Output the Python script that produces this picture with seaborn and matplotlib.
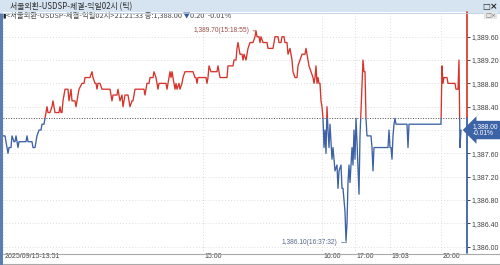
import numpy as np
import pandas as pd
import matplotlib
matplotlib.use("Agg")
import matplotlib.pyplot as plt
import seaborn as sns
from matplotlib.patches import Rectangle
from matplotlib.lines import Line2D
import matplotlib.transforms as mtransforms
from matplotlib.ticker import FuncFormatter

# ---------------- data ----------------
title = "서울외환-USDSP-체결-익일02시 (틱)"
header_main = "<서울외환-USDSP-체결-익일02시>21:21:33 종:1,388.00 "
header_change = "0.20  -0.01%"
prev_close = 1388.20
last_price = 1388.00
last_pct = "-0.01%"
max_time = "15:18:55"
min_time = "16:37:32"

time_tick_pos = [3, 203, 322, 355, 390, 441]
time_tick_labels = ["2025/09/15-13:51", "15:00", "16:00", "17:00", "19:03", "20:00"]
price_ticks = [1386.0, 1386.4, 1386.8, 1387.2, 1387.6, 1388.0, 1388.4, 1388.8, 1389.2, 1389.6]

tick_no = [3, 5, 6, 7, 8, 9, 11, 12, 14, 15, 16, 17, 18, 19, 26, 27, 28, 32, 33, 35,
           36, 37, 39, 41, 42, 44, 45, 47, 48, 50, 52, 53, 55, 57, 59, 60, 61, 62, 63, 65,
           68, 69, 71, 72, 75, 76, 77, 79, 82, 84, 85, 90, 92, 93, 95, 96, 97, 98, 100, 102,
           110, 112, 113, 117, 118, 119, 120, 122, 123, 125, 128, 130, 132, 133, 135, 144, 145, 147, 149, 150,
           153, 154, 156, 157, 158, 159, 166, 167, 168, 170, 171, 172, 173, 174, 175, 176, 177, 179, 180, 182,
           183, 185, 193, 195, 196, 197, 198, 206, 207, 208, 209, 211, 217, 218, 220, 227, 228, 230, 233, 234,
           236, 237, 238, 239, 240, 242, 243, 244, 246, 247, 248, 250, 253, 255, 256, 257, 259, 260, 261, 263,
           267, 268, 273, 275, 278, 279, 281, 282, 284, 285, 287, 288, 290, 292, 293, 295, 297, 298, 300, 302,
           305, 306, 307, 309, 311, 313, 314, 315, 316, 317, 318, 319, 320, 321, 322, 323, 324, 325, 326, 327,
           328, 329, 330, 332, 333, 335, 337, 338, 339, 341, 342, 343, 345, 346, 347, 348, 349, 350, 352, 353,
           354, 355, 356, 357, 359, 360, 362, 363, 364, 365, 366, 367, 371, 372, 373, 374, 388, 389, 390, 391,
           392, 393, 394, 395, 396, 407, 408, 409, 441, 442, 443, 444, 447, 448, 455, 456, 458, 459, 460, 461]

price = [1387.90, 1387.90, 1387.80, 1387.70, 1387.60, 1387.70, 1387.70, 1387.90, 1387.80, 1387.80,
         1387.90, 1387.80, 1387.70, 1387.80, 1387.80, 1387.90, 1387.80, 1387.80, 1387.70, 1387.70,
         1387.80, 1387.90, 1388.00, 1388.00, 1388.10, 1388.10, 1388.20, 1388.40, 1388.30, 1388.30,
         1388.40, 1388.50, 1388.30, 1388.30, 1388.30, 1388.40, 1388.30, 1388.30, 1388.50, 1388.70,
         1388.70, 1388.50, 1388.70, 1388.50, 1388.50, 1388.40, 1388.50, 1388.70, 1388.80, 1388.80,
         1388.90, 1388.90, 1389.00, 1388.90, 1388.80, 1388.80, 1388.70, 1388.80, 1388.80, 1388.70,
         1388.70, 1388.50, 1388.60, 1388.60, 1388.70, 1388.60, 1388.50, 1388.60, 1388.40, 1388.60,
         1388.60, 1388.40, 1388.50, 1388.50, 1388.70, 1388.70, 1388.60, 1388.80, 1388.80, 1388.90,
         1388.90, 1389.00, 1388.90, 1388.80, 1388.70, 1388.80, 1388.80, 1388.70, 1388.80, 1389.00,
         1388.90, 1389.00, 1388.90, 1388.80, 1388.70, 1388.80, 1388.70, 1388.80, 1388.70, 1388.80,
         1388.90, 1389.00, 1389.00, 1388.90, 1388.90, 1388.80, 1388.90, 1388.90, 1388.80, 1388.90,
         1389.10, 1389.00, 1389.00, 1389.10, 1388.90, 1388.90, 1389.10, 1389.10, 1389.10, 1389.20,
         1389.20, 1389.40, 1389.50, 1389.40, 1389.30, 1389.30, 1389.20, 1389.30, 1389.20, 1389.30,
         1389.40, 1389.50, 1389.50, 1389.60, 1389.70, 1389.60, 1389.60, 1389.50, 1389.60, 1389.50,
         1389.50, 1389.40, 1389.40, 1389.60, 1389.60, 1389.50, 1389.50, 1389.60, 1389.60, 1389.50,
         1389.50, 1389.30, 1389.40, 1389.20, 1389.00, 1388.90, 1388.90, 1389.10, 1389.20, 1389.30,
         1389.30, 1389.40, 1389.30, 1389.10, 1389.00, 1388.90, 1388.80, 1388.90, 1389.10, 1388.80,
         1388.90, 1388.80, 1388.80, 1388.50, 1388.40, 1388.20, 1387.70, 1388.00, 1387.60, 1388.40,
         1388.00, 1387.70, 1388.10, 1387.50, 1387.70, 1387.30, 1387.40, 1387.00, 1387.30, 1387.40,
         1387.00, 1387.00, 1386.60, 1386.10, 1386.40, 1387.10, 1387.40, 1387.10, 1387.70, 1387.40,
         1388.00, 1387.50, 1388.20, 1387.80, 1386.90, 1387.90, 1388.80, 1389.20, 1389.00, 1389.00,
         1388.20, 1387.90, 1387.90, 1387.70, 1387.30, 1387.70, 1387.70, 1388.00, 1387.70, 1387.70,
         1387.50, 1387.90, 1388.10, 1388.20, 1388.10, 1388.10, 1387.70, 1388.10, 1388.10, 1389.10,
         1388.80, 1388.90, 1388.90, 1388.80, 1388.80, 1388.70, 1388.70, 1389.20, 1387.70, 1388.00]

# ---------------- style ----------------
RED = "#d8332b"
BLUE = "#3d62a5"
AX_RED = "#d9412f"
AX_BLUE = "#3b60a8"
GRID = "#d2d2d2"
TXT = "#404040"

sns.set_style("white")
plt.rcParams["font.family"] = ["Liberation Sans", "Noto Sans CJK KR", "DejaVu Sans"]
KR = ["Noto Sans CJK KR", "DejaVu Sans"]

W, H = 500, 265
fig = plt.figure(figsize=(W / 100, H / 100), dpi=100)
fig.patch.set_facecolor("white")


def fx(px):
    return px / W


def fy(py):
    return 1 - py / H


top_px, bot_px = 12, 253
ax = fig.add_axes([fx(3), fy(bot_px), (467 - 3) / W, (bot_px - top_px) / H])
ax.set_facecolor("white")

# pixel->value scale of the reference (1386.00 at y=246.7, 58.33 px per 1.0)
ymin = 1386.0 + (246.7 - bot_px) / 58.33
ymax = 1386.0 + (246.7 - top_px) / 58.33

df = pd.DataFrame({"tick": tick_no, "price": price})
sns.lineplot(data=df, x="tick", y="price", ax=ax, color=RED, lw=0.95,
             estimator=None, sort=False, zorder=3)
red_line = ax.lines[-1]
sns.lineplot(data=df, x="tick", y="price", ax=ax, color=BLUE, lw=0.95,
             estimator=None, sort=False, zorder=3)
blue_line = ax.lines[-1]

x0, x1 = 3, 467
ax.set_xlim(x0, x1)
ax.set_ylim(ymin, ymax)
red_line.set_clip_path(Rectangle((x0, prev_close), x1 - x0, ymax - prev_close, transform=ax.transData))
blue_line.set_clip_path(Rectangle((x0, ymin), x1 - x0, prev_close - ymin, transform=ax.transData))

ax.set_xlabel("")
ax.set_ylabel("")
for s in ax.spines.values():
    s.set_visible(False)

# grid
ax.set_yticks(price_ticks)
ax.set_xticks(time_tick_pos)
ax.set_xticklabels(time_tick_labels)
ax.grid(True, color=GRID, ls=(0, (1, 2.5)), lw=0.6)
ax.set_axisbelow(True)

# reference (previous close) line
ax.axhline(prev_close, color="#4a4a4a", ls=(0, (1, 1.6)), lw=0.7, zorder=2)

# right axis
frac = (prev_close - ymin) / (ymax - ymin)
ax.axvline(x1, ymin=frac, ymax=1, color=AX_RED, lw=1.3, clip_on=False, zorder=4)
ax.axvline(x1, ymin=0, ymax=frac, color=AX_BLUE, lw=1.3, clip_on=False, zorder=4)

ax.yaxis.tick_right()
# the current-price box covers the label at the last price level
ax.yaxis.set_major_formatter(FuncFormatter(lambda v, p: "" if abs(v - last_price) < 1e-6 else f"{v:,.2f}"))
ax.tick_params(axis="y", length=2.5, width=0.6, pad=1, labelsize=5, labelcolor=TXT, direction="out")
for t in ax.yaxis.get_major_ticks():
    t.tick2line.set_color(AX_RED if t.get_loc() > prev_close else AX_BLUE)

ax.tick_params(axis="x", length=3.5, width=0.6, color="#707070", pad=-3.2, labelsize=5, labelcolor=TXT,
               direction="out")
offset = mtransforms.ScaledTranslation(1.8 / 100, 0, fig.dpi_scale_trans)
for lab in ax.get_xticklabels():
    lab.set_ha("left")
    lab.set_transform(lab.get_transform() + offset)

# max / min annotations
imax = int(np.argmax(price))
imin = int(np.argmin(price))
ax.annotate(f"{price[imax]:,.2f}({max_time})", xy=(tick_no[imax], price[imax]),
            xytext=(-4.5, 0), textcoords="offset points", ha="right", va="center",
            fontsize=4.8, color="#9a5048",
            arrowprops=dict(arrowstyle="-", color="#9a5048", lw=0.5, shrinkA=0, shrinkB=0), zorder=6)
ax.annotate(f"{price[imin]:,.2f}({min_time})", xy=(tick_no[imin], price[imin]),
            xytext=(-6, -1), textcoords="offset points", ha="right", va="center",
            fontsize=4.8, color="#55668a",
            arrowprops=dict(arrowstyle="-", color="#55668a", lw=0.5, shrinkA=0, shrinkB=0,
                            connectionstyle="angle,angleA=0,angleB=90,rad=0"), zorder=6)

# current price box
ax.annotate(f"{last_price:,.2f}\n{last_pct}", xy=(1, last_price), xycoords=ax.get_yaxis_transform(),
            xytext=(4.0, 0), textcoords="offset points", ha="left", va="center",
            fontsize=4.8, color="white", linespacing=0.95,
            bbox=dict(boxstyle="larrow,pad=0.35", fc="#3c63a6", ec="none"),
            annotation_clip=False, zorder=10)

# ---------------- window chrome ----------------
fig.add_artist(Rectangle((0, fy(12.5)), 1, 12.5 / H, transform=fig.transFigure,
                         fc="#d6e4f1", ec="none", zorder=0))
fig.add_artist(Line2D([0, 1], [fy(12.5)] * 2, color="#b9cde0", lw=0.6))
fig.text(fx(10), fy(6.5), title, fontsize=5.7, color="#2b2b2b", va="center", ha="left", family=KR)
fig.text(fx(482), fy(6.5), "□", fontsize=6, color="#222222", va="center", family=["DejaVu Sans"])
fig.text(fx(490), fy(6.5), "×", fontsize=6.5, color="#222222", va="center", family=["DejaVu Sans"],
         fontweight="bold")
fig.text(fx(485), fy(15.5), "□×", fontsize=4.5, color="#777777", va="center", family=["DejaVu Sans"],
         bbox=dict(fc="#e6e6e6", ec="none", pad=0.4))

# left window border and bottom strip
fig.add_artist(Rectangle((0, 0), fx(2.6), fy(13), transform=fig.transFigure, fc="#5a7db4", ec="none"))
fig.add_artist(Line2D([fx(3), 1], [fy(bot_px + 0.5)] * 2, color="#a9a9a9", lw=0.8))
fig.add_artist(Line2D([fx(3), 1], [fy(263.5)] * 2, color="#a9a9a9", lw=0.8))

# header line
t0 = fig.text(fx(2), fy(15.5), "▮", fontsize=4.5, color="#222222", va="center", family=KR)
t1 = ax.annotate(header_main, xy=(1, 0), xycoords=t0, ha="left", va="bottom",
                 fontsize=5.3, color="#4a4a4a", family=KR, annotation_clip=False)
t2 = ax.annotate("▼", xy=(1, 0), xycoords=t1, ha="left", va="bottom",
                 fontsize=5.3, color="#2f58a8", family=KR, annotation_clip=False)
ax.annotate(header_change, xy=(1, 0), xycoords=t2, ha="left", va="bottom",
            fontsize=5.3, color="#4a4a4a", family=KR, annotation_clip=False)

fig.savefig("out.png", dpi=100)
